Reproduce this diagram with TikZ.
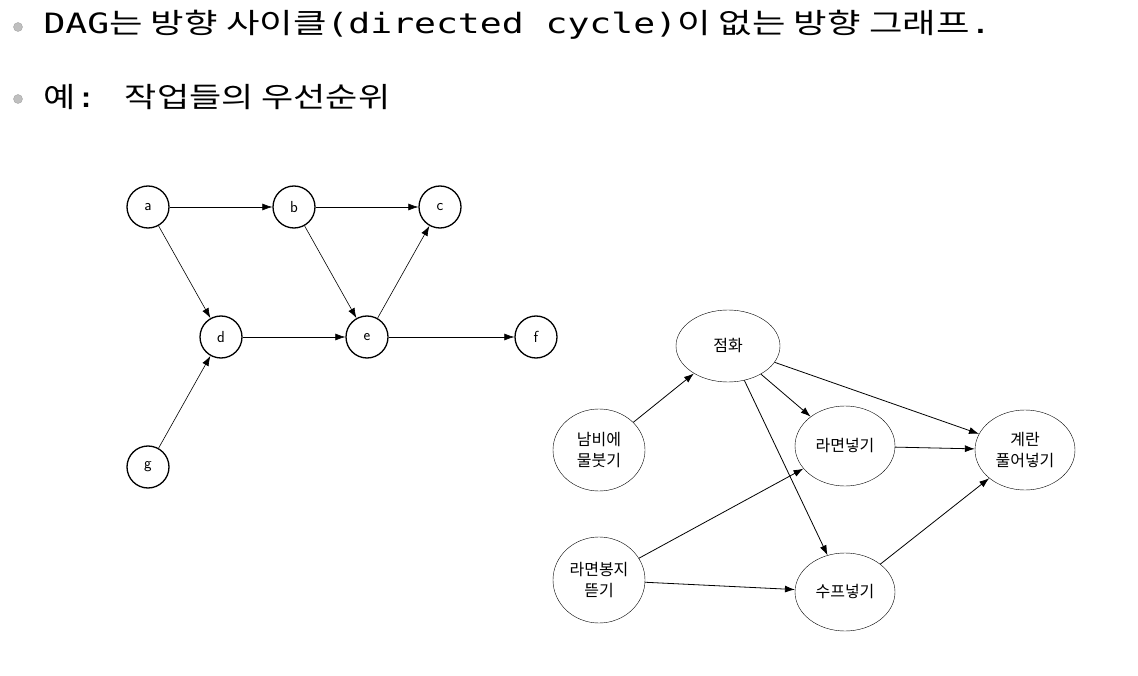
\documentclass[tikz,border=0pt]{standalone}
\usepackage{fontspec}
\newfontfamily\kr{Noto Sans CJK KR}
\newfontfamily\mono{DejaVu Sans Mono}
\usetikzlibrary{arrows.meta,shapes.geometric}
\begin{document}
\begin{tikzpicture}[x=1pt,y=-1pt,
 cn/.style={draw,line width=1.3pt,circle,minimum size=42pt,inner sep=0pt,font=\sffamily\fontsize{16}{16}\selectfont},
 en/.style={draw,ellipse,minimum width=#1,inner sep=0pt,align=center,font=\kr\fontsize{16}{21}\selectfont},
 ar/.style={-{Latex[length=10pt,width=7pt]},thick},
 ar2/.style={-{Latex[length=10pt,width=7pt]},semithick},
 bl/.style={circle,fill=gray!50,draw=gray!70,minimum size=9pt,inner sep=0pt}]
\useasboundingbox (0,0) rectangle (1138,676);
\node[bl] (b1) at (18,27) {};
\node[bl] (b2) at (18,99) {};
\node[anchor=west,font=\fontsize{28}{32}\selectfont] (t1) at (40,25) {\scalebox{1.3}[1]{\mono DAG\kr 는 방향 사이클\mono(directed cycle)\kr 이 없는 방향 그래프\mono.}};
\node[anchor=west,font=\fontsize{28}{32}\selectfont] (t2) at (40,97) {\scalebox{1.25}[1]{\kr 예\mono: \kr 작업들의 우선순위}};
\node[cn] (a) at (148,207) {a};
\node[cn] (b) at (294,207) {b};
\node[cn] (c) at (440,207) {c};
\node[cn] (d) at (221,337) {d};
\node[cn] (e) at (367,337) {e};
\node[cn] (f) at (536,337) {f};
\node[cn] (g) at (148,467) {g};
\draw[ar2] (a)--(b); \draw[ar2] (b)--(c); \draw[ar2] (a)--(d); \draw[ar2] (b)--(e);
\draw[ar2] (e)--(c); \draw[ar2] (d)--(e); \draw[ar2] (e)--(f); \draw[ar2] (g)--(d);
\node[en=104pt,minimum height=72pt] (jh) at (728,346) {점화};
\node[en=92pt,minimum height=82pt] (nb) at (599,450) {남비에\\물붓기};
\node[en=100pt,minimum height=80pt] (rm) at (845,446) {라면넣기};
\node[en=100pt,minimum height=80pt] (gr) at (1025,450) {계란\\풀어넣기};
\node[en=92pt,minimum height=86pt] (rb) at (599,580) {라면봉지\\뜯기};
\node[en=100pt,minimum height=78pt] (sp) at (845,592) {수프넣기};
\draw[ar] (nb)--(jh); \draw[ar] (jh)--(rm); \draw[ar] (jh)--(gr); \draw[ar] (jh)--(sp);
\draw[ar] (rm)--(gr); \draw[ar] (rb)--(rm); \draw[ar] (rb)--(sp); \draw[ar] (sp)--(gr);
\end{tikzpicture}
\end{document}
